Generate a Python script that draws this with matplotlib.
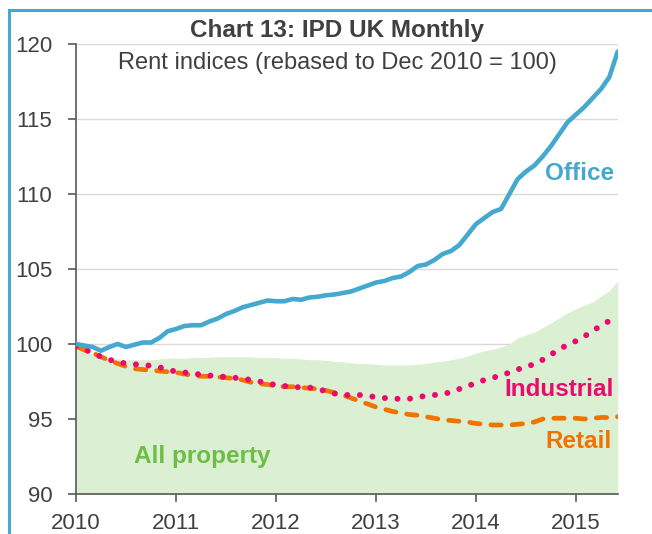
import matplotlib
matplotlib.use("Agg")
import matplotlib.pyplot as plt
from matplotlib.lines import Line2D
import numpy as np

plt.rcParams['font.family'] = ['Liberation Sans', 'DejaVu Sans']

start_year = 2010
office = [100.0, 99.9, 99.8, 99.55, 99.8, 100.0, 99.8, 99.95, 100.1, 100.1, 100.4, 100.85,
          101.0, 101.2, 101.25, 101.25, 101.5, 101.7, 102.0, 102.2, 102.45, 102.6, 102.75, 102.9,
          102.85, 102.85, 103.0, 102.95, 103.1, 103.15, 103.25, 103.3, 103.4, 103.5, 103.7, 103.9,
          104.1, 104.2, 104.4, 104.5, 104.8, 105.2, 105.3, 105.6, 106.0, 106.2, 106.6, 107.3,
          108.0, 108.4, 108.8, 109.0, 110.0, 111.0, 111.5, 111.9, 112.5, 113.2, 114.0, 114.8,
          115.3, 115.8, 116.4, 117.0, 117.8, 119.5]
industrial = [99.85, 99.65, 99.4, 99.15, 98.95, 98.8, 98.7, 98.65, 98.6, 98.55, 98.45, 98.3,
              98.15, 98.1, 98.05, 97.95, 97.9, 97.85, 97.8, 97.75, 97.7, 97.6, 97.5, 97.4,
              97.25, 97.2, 97.15, 97.1, 97.1, 97.0, 96.85, 96.7, 96.6, 96.6, 96.6, 96.55,
              96.45, 96.4, 96.35, 96.35, 96.35, 96.45, 96.55, 96.6, 96.65, 96.8, 97.0, 97.2,
              97.4, 97.6, 97.75, 97.9, 98.1, 98.3, 98.5, 98.65, 98.95, 99.3, 99.65, 99.95,
              100.2, 100.5, 100.9, 101.2, 101.55, 101.9]
retail = [99.85, 99.6, 99.4, 99.15, 98.9, 98.7, 98.5, 98.35, 98.3, 98.25, 98.2, 98.15,
          98.1, 98.0, 97.9, 97.85, 97.85, 97.8, 97.75, 97.7, 97.6, 97.45, 97.35, 97.3,
          97.2, 97.15, 97.15, 97.1, 97.05, 97.0, 96.9, 96.75, 96.6, 96.4, 96.2, 96.0,
          95.8, 95.65, 95.5, 95.4, 95.3, 95.25, 95.15, 95.05, 94.95, 94.9, 94.85, 94.8,
          94.7, 94.65, 94.6, 94.6, 94.6, 94.65, 94.7, 94.8, 95.0, 95.05, 95.05, 95.05,
          95.05, 95.0, 95.05, 95.1, 95.1, 95.15]
all_property = [99.9, 99.6, 99.3, 99.15, 99.05, 99.0, 98.95, 98.95, 98.95, 98.95, 99.0, 99.05,
                99.05, 99.05, 99.1, 99.1, 99.1, 99.15, 99.15, 99.15, 99.15, 99.15, 99.1, 99.1,
                99.1, 99.05, 99.05, 99.0, 98.95, 98.95, 98.9, 98.85, 98.8, 98.75, 98.7, 98.7,
                98.65, 98.6, 98.6, 98.6, 98.6, 98.65, 98.7, 98.8, 98.85, 98.95, 99.05, 99.2,
                99.4, 99.55, 99.65, 99.8, 100.0, 100.4, 100.6, 100.8, 101.1, 101.4, 101.75, 102.1,
                102.35, 102.6, 102.8, 103.2, 103.55, 104.2]
year_ticks = [2010, 2011, 2012, 2013, 2014, 2015]
y_ticks = [90, 95, 100, 105, 110, 115, 120]

x = start_year + np.arange(len(office)) / 12.0

c_office = '#45A9CF'
c_ind = '#EC0A6E'
c_ret = '#F07300'
c_fill = '#DBEFD3'
c_green = '#6DBE45'
c_text = '#404040'

fig = plt.figure(figsize=(6.52, 5.34), dpi=100)
ax = fig.add_axes([76/652, 40/534, (617.7-76)/652, (494-44)/534])

ax.fill_between(x, 90, all_property, color=c_fill, lw=0, zorder=1)
ax.plot(x, retail, color=c_ret, lw=3.4, linestyle=(0, (2.2, 2.3)),
        dash_capstyle='round', zorder=3)
ax.plot(x, industrial, color=c_ind, lw=4.3, linestyle=(0, (0.01, 2.1)),
        dash_capstyle='round', zorder=4)
ax.plot(x, office, color=c_office, lw=3.3, solid_capstyle='round', zorder=5)

ax.set_xlim(x[0], x[-1])
ax.set_ylim(90, 120)
ax.set_yticks(y_ticks)
ax.set_xticks(year_ticks)
ax.set_xticklabels([str(v) for v in year_ticks])
ax.set_axisbelow(True)
ax.yaxis.grid(True, color='#D9D9D9', lw=1.0)
for s in ['top', 'right']:
    ax.spines[s].set_visible(False)
for s in ['left', 'bottom']:
    ax.spines[s].set_color('#595959')
    ax.spines[s].set_linewidth(1.2)
ax.tick_params(axis='both', direction='out', length=6, width=1.2, color='#595959',
               labelsize=16, labelcolor=c_text)
ax.tick_params(axis='y', pad=11)
ax.tick_params(axis='x', pad=8)

fig.text(337/652, 1 - 30/534, 'Chart 13: IPD UK Monthly', ha='center', va='center',
         fontsize=17.5, fontweight='bold', color=c_text)
fig.text(337/652, 1 - 63/534, 'Rent indices (rebased to Dec 2010 = 100)', ha='center',
         va='center', fontsize=17, color=c_text)

fig.text(614/652, 1 - 173/534, 'Office', ha='right', va='center', fontsize=17.5,
         fontweight='bold', color=c_office)
fig.text(614/652, 1 - 390/534, 'Industrial', ha='right', va='center', fontsize=17.5,
         fontweight='bold', color=c_ind)
fig.text(612/652, 1 - 442/534, 'Retail', ha='right', va='center', fontsize=17.5,
         fontweight='bold', color=c_ret)
fig.text(134/652, 1 - 456/534, 'All property', ha='left', va='center', fontsize=17.5,
         fontweight='bold', color=c_green)

# partial frame border (left and top edges)
fig.add_artist(Line2D([8.5/652, 8.5/652], [0, 1 - 9.5/534], transform=fig.transFigure,
                      color=c_office, lw=2.2))
fig.add_artist(Line2D([8.5/652, 1], [1 - 9.5/534, 1 - 9.5/534], transform=fig.transFigure,
                      color=c_office, lw=2.2))

fig.savefig('out.png', dpi=100)
